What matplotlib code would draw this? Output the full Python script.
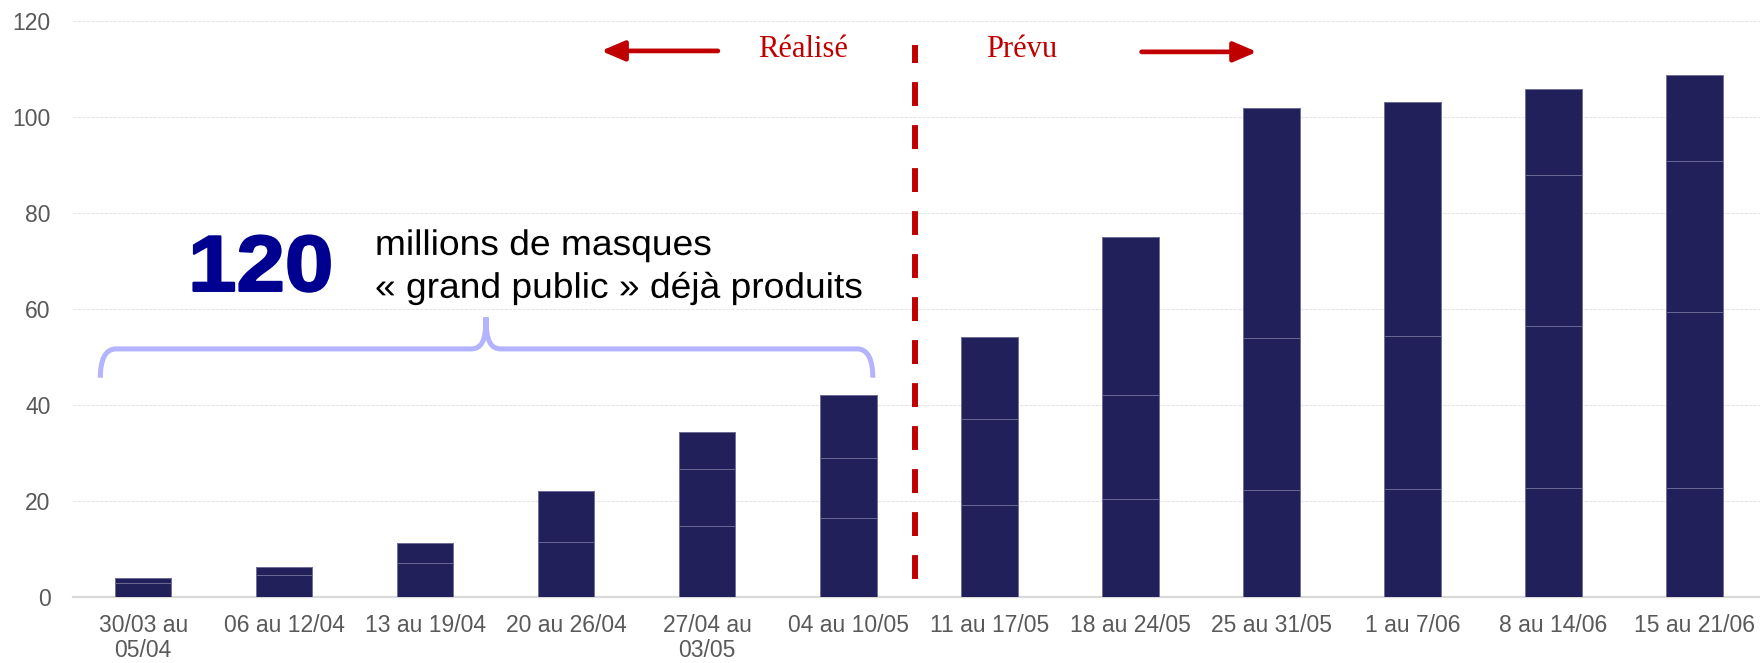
import matplotlib.pyplot as plt
from matplotlib.path import Path
from matplotlib.patches import PathPatch, Rectangle
from matplotlib.transforms import Affine2D
import matplotlib.patheffects as pe
import numpy as np

weeks = ["30/03 au\n05/04", "06 au 12/04", "13 au 19/04", "20 au 26/04",
         "27/04 au\n03/05", "04 au 10/05", "11 au 17/05", "18 au 24/05",
         "25 au 31/05", "1 au 7/06", "8 au 14/06", "15 au 21/06"]
# stacked segments, millions of masks
seg1 = [2.9, 4.6, 7.1, 11.5, 14.7, 16.5, 19.1, 20.5, 22.2, 22.5, 22.7, 22.8]
seg2 = [1.1, 1.6, 4.1, 10.5, 11.9, 12.4, 18.1, 21.7, 31.7, 31.8, 33.7, 36.5]
seg3 = [0, 0, 0, 0, 7.7, 13.1, 17.0, 32.8, 48.0, 48.8, 31.5, 31.5]
seg4 = [0, 0, 0, 0, 0, 0, 0, 0, 0, 0, 17.9, 17.9]

BAR = '#21205A'
RED = '#C00000'


class Stretch(pe.AbstractPathEffect):
    # widen text horizontally, optionally with an outline to make it heavier
    def __init__(self, sx, anchor='center', stroke=0, color=None):
        super().__init__()
        self.sx = sx
        self.anchor = anchor
        self.stroke = stroke
        self.color = color

    def draw_path(self, renderer, gc, tpath, affine, rgbFace=None):
        ext = tpath.get_extents(affine)
        cx = ext.x0 if self.anchor == 'left' else (ext.x0 + ext.x1) / 2
        t = affine + Affine2D().translate(-cx, 0).scale(self.sx, 1).translate(cx, 0)
        if self.stroke:
            gc0 = renderer.new_gc()
            gc0.copy_properties(gc)
            gc0.set_linewidth(self.stroke)
            gc0.set_foreground(self.color)
            renderer.draw_path(gc0, tpath, t, rgbFace)
            gc0.restore()
        else:
            renderer.draw_path(gc, tpath, t, rgbFace)


plt.rcParams['font.family'] = ['Liberation Sans', 'DejaVu Sans']

fig = plt.figure(figsize=(17.6, 6.63), dpi=100)
ax = fig.add_axes([0.0413, 0.0995, 0.9615, 0.8686])

x = np.arange(len(weeks))
bottom = np.zeros(len(weeks))
for seg in (seg1, seg2, seg3, seg4):
    seg = np.array(seg)
    ax.bar(x, seg, 0.4, bottom=bottom, color=BAR, edgecolor='#6c6c96',
           linewidth=0.6, zorder=3)
    bottom += seg

ax.set_xlim(-0.5, 11.5)
ax.set_ylim(0, 120)
ax.set_yticks(range(0, 121, 20))
ax.set_xticks(x)
ax.set_xticklabels(weeks, linespacing=1.12)
ax.tick_params(axis='both', length=0, labelsize=16.5, colors='#595959')
ax.tick_params(axis='x', pad=12)
ax.tick_params(axis='y', pad=16)
ax.grid(axis='y', color='#e6e6e6', linewidth=0.8, linestyle=(0, (3, 1)), zorder=0)
for s in ('top', 'right', 'left'):
    ax.spines[s].set_visible(False)
ax.spines['bottom'].set_color('#d9d9d9')
ax.spines['bottom'].set_linewidth(1.6)

# white box behind the annotation text
ax.add_patch(Rectangle((0.016, 50), 5.35, 42, facecolor='white',
                       edgecolor='none', zorder=1))

# separation line realised / planned
ax.plot([5.474, 5.474], [3.7, 115.1], color=RED, linewidth=4.3,
        linestyle=(0, (4, 3.2)), zorder=4)
arrow = dict(arrowstyle='-|>,head_length=1.4,head_width=0.6',
             color=RED, lw=3.4, shrinkA=0, shrinkB=0)
ax.annotate('', xy=(3.247, 113.8), xytext=(4.075, 113.8), arrowprops=arrow)
ax.annotate('', xy=(7.898, 113.6), xytext=(7.08, 113.6), arrowprops=arrow)
ax.text(4.68, 114.1, 'Réalisé', color=RED, fontsize=22, ha='center',
        va='center', family='Liberation Serif')
ax.text(6.23, 114.1, 'Prévu', color=RED, fontsize=22, ha='center',
        va='center', family='Liberation Serif')

# annotation
ax.text(0.834, 63.8, '120', color='#000090', fontsize=57, fontweight='bold',
        ha='center', va='baseline', zorder=5,
        path_effects=[Stretch(1.1, stroke=1.6, color='#000090')])
ax.text(1.644, 68.8, 'millions de masques\n« grand public » déjà produits',
        color='black', fontsize=25.5, ha='left', va='center',
        linespacing=1.38, zorder=5, path_effects=[Stretch(1.05, anchor='left')])

# brace
xl, xr, xm = -0.304, 5.174, 2.431
yb, yh, yt = 45.7, 51.7, 58.3
rx, ry = 0.11, 6.0
verts = [(xl, yb), (xl, yb + ry * 0.6), (xl + rx * 0.3, yh), (xl + rx, yh),
         (xm - rx, yh),
         (xm - rx * 0.3, yh), (xm, yh + 1.5), (xm, yt),
         (xm, yh + 1.5), (xm + rx * 0.3, yh), (xm + rx, yh),
         (xr - rx, yh),
         (xr - rx * 0.3, yh), (xr, yb + ry * 0.6), (xr, yb)]
codes = [Path.MOVETO, Path.CURVE4, Path.CURVE4, Path.CURVE4,
         Path.LINETO,
         Path.CURVE4, Path.CURVE4, Path.CURVE4,
         Path.CURVE4, Path.CURVE4, Path.CURVE4,
         Path.LINETO,
         Path.CURVE4, Path.CURVE4, Path.CURVE4]
ax.add_patch(PathPatch(Path(verts, codes), facecolor='none', edgecolor='#B3B3FF',
                       linewidth=3.6, capstyle='butt', zorder=5))

fig.savefig('out.png', dpi=100)
